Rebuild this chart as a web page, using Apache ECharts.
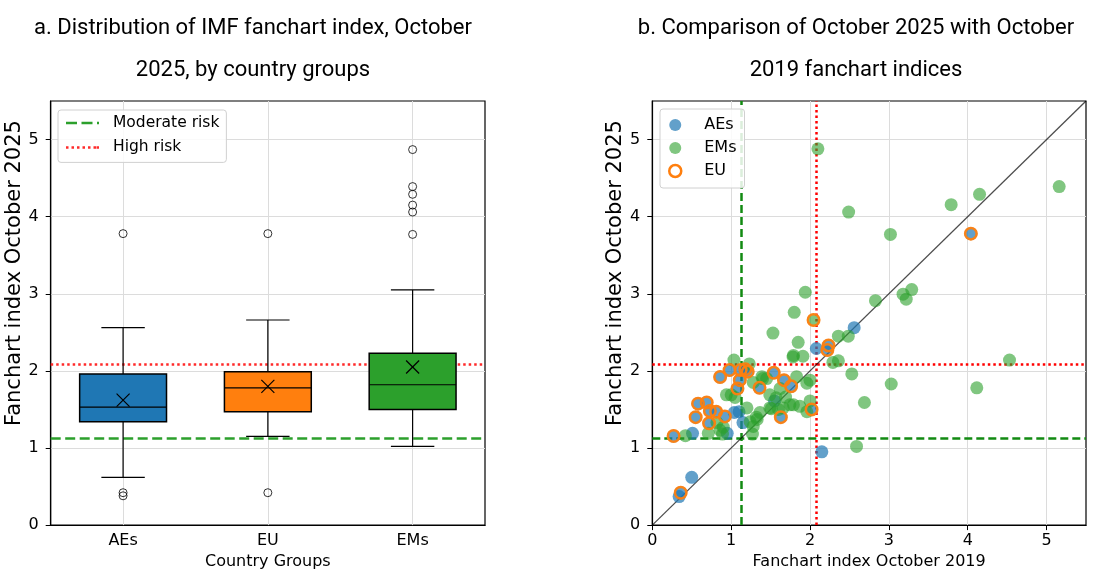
<!DOCTYPE html>
<html>
<head>
<meta charset="utf-8">
<script src="https://cdn.jsdelivr.net/npm/echarts@6/dist/echarts.min.js"></script>
<style>html,body{margin:0;padding:0;background:#fff;}#c{width:1111px;height:575px;}</style>
</head>
<body>
<div id="c"></div>
<script>
// ---------- data ----------
const CATS = ['AEs', 'EU', 'EMs'];
const BOX_LOW  = [0.62, 1.15, 1.02];
const BOX_Q1   = [1.34, 1.47, 1.50];
const BOX_MED  = [1.53, 1.78, 1.82];
const BOX_Q3   = [1.96, 1.99, 2.23];
const BOX_HIGH = [2.56, 2.66, 3.05];
const BOX_MEAN = [1.62, 1.80, 2.05];
const OUTLIERS_AES = [3.78, 0.42, 0.38];
const OUTLIERS_EU  = [3.78, 0.42];
const OUTLIERS_EMS = [4.87, 4.39, 4.29, 4.15, 4.06, 3.77];
const MODERATE_RISK = 1.13;
const HIGH_RISK = 2.08;
const AXIS_MAX = 5.5;
const TICKS = [0, 1, 2, 3, 4, 5];

// [index Oct 2019, index Oct 2025]
const AES_ONLY = [
  [0.34, 0.37], [0.50, 0.62], [0.51, 1.19], [0.95, 1.19], [1.15, 1.33],
  [1.04, 1.46], [1.10, 1.47], [1.55, 1.61], [2.15, 0.95], [2.08, 2.29],
  [2.56, 2.56]
];
const EU_AES = [
  [0.27, 1.155], [0.36, 0.42], [0.58, 1.575], [0.69, 1.59], [0.55, 1.40],
  [0.72, 1.32], [0.73, 1.48], [0.81, 1.47], [0.92, 1.41], [0.86, 1.92],
  [0.98, 2.01], [1.12, 2.01], [1.18, 2.02], [1.21, 1.99], [1.11, 1.88],
  [1.08, 1.77], [1.36, 1.78], [1.54, 1.975], [1.67, 1.88], [1.76, 1.80],
  [1.63, 1.40], [2.02, 1.50], [2.235, 2.33], [2.22, 2.27], [4.04, 3.78]
];
const EU_EMS = [[2.045, 2.66]];
const EMS_ONLY = [
  [2.10, 4.88], [5.16, 4.39], [4.15, 4.29], [3.79, 4.155], [2.49, 4.06],
  [3.02, 3.77], [1.94, 3.02], [3.29, 3.055], [3.18, 2.995], [3.22, 2.93],
  [2.83, 2.91], [1.80, 2.76], [1.53, 2.49], [2.36, 2.45], [2.485, 2.45],
  [1.85, 2.37], [1.785, 2.18], [1.79, 2.20], [1.91, 2.19], [2.29, 2.11],
  [2.36, 2.13], [4.53, 2.14], [2.53, 1.96], [3.03, 1.83], [4.115, 1.78],
  [2.69, 1.59], [2.59, 1.02], [1.035, 2.14], [1.23, 2.09], [1.39, 1.925],
  [1.45, 1.90], [1.28, 1.85], [1.83, 1.925], [1.96, 1.84], [2.00, 1.88],
  [0.94, 1.69], [1.00, 1.69], [1.05, 1.655], [1.49, 1.69], [1.745, 1.56],
  [1.79, 1.56], [1.87, 1.54], [2.00, 1.61], [1.96, 1.47], [1.49, 1.52],
  [1.60, 1.50], [1.20, 1.52], [1.365, 1.46], [1.32, 1.40], [1.24, 1.34],
  [1.28, 1.28], [0.82, 1.33], [0.90, 1.27], [0.86, 1.23], [0.71, 1.19],
  [0.42, 1.16], [1.27, 1.18], [1.66, 1.52], [1.51, 1.51], [1.62, 1.77],
  [1.69, 1.66], [1.57, 1.65], [0.89, 1.18], [1.40, 1.90], [1.33, 1.37]
];

// ---------- styles ----------
const FONT = 'DejaVu Sans';
const BOX_COLORS = ['#1f77b4', '#ff7f0e', '#2ca02c'];
const GRID_COLOR = '#dcdcdc';
const DASH_ICON = 'path://M0,0H11V2.5H0Z M15.5,0H26.5V2.5H15.5Z M31,0H33V2.5H31Z';
const DOT_ICON = 'path://M0,0H2.5V2.5H0Z M5.5,0H8V2.5H5.5Z M11,0H13.5V2.5H11Z M16.5,0H19V2.5H16.5Z M22,0H24.5V2.5H22Z M27.5,0H30V2.5H27.5Z M30.5,0H33V2.5H30.5Z';

const boxData = CATS.map((c, i) => [i, BOX_LOW[i], BOX_Q1[i], BOX_MED[i], BOX_Q3[i], BOX_HIGH[i], BOX_MEAN[i]]);
const outlierData = [];
OUTLIERS_AES.forEach(v => outlierData.push([0, v]));
OUTLIERS_EU.forEach(v => outlierData.push([1, v]));
OUTLIERS_EMS.forEach(v => outlierData.push([2, v]));

function valueAxis(grid, name) {
  return {
    type: 'value', gridIndex: grid, min: 0, max: AXIS_MAX,
    name: name, nameLocation: 'middle',
    nameTextStyle: { fontFamily: FONT, fontSize: 16, color: '#000' },
    axisLine: { show: true, lineStyle: { color: '#000', width: 1.2 } },
    axisTick: { show: true, length: 5, customValues: TICKS, lineStyle: { color: '#000' } },
    axisLabel: { customValues: TICKS, fontFamily: FONT, fontSize: 16, color: '#000', margin: 12 },
    splitLine: { show: true, lineStyle: { color: GRID_COLOR, width: 1 } }
  };
}

function yAxisFor(grid) {
  const a = valueAxis(grid, 'Fanchart index October 2025');
  a.nameGap = 17;
  a.nameTextStyle.fontSize = 21;
  a.nameTextStyle.padding = [0, 0, 0, 80];
  return a;
}
const yLeft = yAxisFor(0);
const yRight = yAxisFor(1);
const xRight = valueAxis(1, 'Fanchart index October 2019');
xRight.nameGap = 22; xRight.axisLabel.margin = 8;

const titleStyle = { fontFamily: 'Roboto', fontSize: 22, fontWeight: 'normal', color: '#000', lineHeight: 42 };

const option = {
  backgroundColor: '#fff',
  animation: false,
  title: [
    { text: 'a. Distribution of IMF fanchart index, October\n2025, by country groups',
      left: 253, top: 7, padding: 0, textAlign: 'center', textStyle: titleStyle },
    { text: 'b. Comparison of October 2025 with October\n2019 fanchart indices',
      left: 856, top: 7, padding: 0, textAlign: 'center', textStyle: titleStyle }
  ],
  legend: [
    { orient: 'vertical', left: 58, top: 110, padding: [4, 7, 6, 8],
      itemWidth: 33, itemHeight: 14, itemGap: 6.4,
      backgroundColor: 'rgba(255,255,255,0.85)', borderColor: '#d0d0d0', borderWidth: 1, borderRadius: 3,
      textStyle: { fontFamily: FONT, fontSize: 15.5, color: '#000', lineHeight: 18, padding: [0, 0, 0, 9] },
      data: [
        { name: 'Moderate risk', icon: DASH_ICON, itemStyle: { color: '#2ca02c', borderWidth: 0 } },
        { name: 'High risk', icon: DOT_ICON, itemStyle: { color: '#ff2a2a', borderWidth: 0 } }
      ] },
    { orient: 'vertical', left: 660, top: 109, padding: [7, 8, 8, 8],
      itemWidth: 32, itemHeight: 12, itemGap: 5,
      backgroundColor: 'rgba(255,255,255,0.85)', borderColor: '#d0d0d0', borderWidth: 1, borderRadius: 3,
      textStyle: { fontFamily: FONT, fontSize: 16, color: '#000', lineHeight: 18, padding: [0, 0, 0, 8] },
      data: [
        { name: 'AEs', icon: 'circle', itemStyle: { color: 'rgb(98,160,202)', opacity: 1 } },
        { name: 'EMs', icon: 'circle', itemStyle: { color: 'rgb(128,198,128)', opacity: 1 } },
        { name: 'EU', icon: 'circle', itemStyle: { color: 'rgba(255,255,255,0)', borderColor: '#ff7f0e', borderWidth: 2.5, opacity: 1 } }
      ] }
  ],
  grid: [
    { left: 50.7, right: 626, top: 101, bottom: 45, show: true, borderColor: '#000', borderWidth: 1.2, backgroundColor: '#fff' },
    { left: 652.3, right: 25, top: 101, bottom: 45, show: true, borderColor: '#000', borderWidth: 1.2, backgroundColor: '#fff' }
  ],
  xAxis: [
    { type: 'category', gridIndex: 0, data: CATS,
      name: 'Country Groups', nameLocation: 'middle', nameGap: 22,
      nameTextStyle: { fontFamily: FONT, fontSize: 16, color: '#000' },
      axisLine: { lineStyle: { color: '#000', width: 1.2 } },
      axisTick: { alignWithLabel: true, length: 5, lineStyle: { color: '#000' } },
      axisLabel: { fontFamily: FONT, fontSize: 16, color: '#000', margin: 8 },
      splitLine: { show: false } },
    xRight
  ],
  yAxis: [yLeft, yRight],
  series: [
    // left panel: vertical grid + outliers
    { type: 'scatter', xAxisIndex: 0, yAxisIndex: 0, data: outlierData, z: 5,
      symbol: 'circle', symbolSize: 8,
      itemStyle: { color: 'rgba(255,255,255,0)', borderColor: '#000', borderWidth: 1 },
      markLine: { silent: true, symbol: 'none', label: { show: false }, z: 1,
        lineStyle: { color: GRID_COLOR, width: 1, type: 'solid' },
        data: CATS.map(c => ({ xAxis: c })) } },
    { name: 'Moderate risk', type: 'line', xAxisIndex: 0, yAxisIndex: 0, data: [], symbol: 'none',
      lineStyle: { color: '#2ca02c', width: 2.5, type: [10, 4.5] }, itemStyle: { color: '#2ca02c' },
      markLine: { silent: true, symbol: 'none', label: { show: false }, z: 2,
        lineStyle: { color: '#2ca02c', width: 2.5, type: [10, 4.5] },
        data: [{ yAxis: MODERATE_RISK }] } },
    { name: 'High risk', type: 'line', xAxisIndex: 0, yAxisIndex: 0, data: [], symbol: 'none',
      lineStyle: { color: '#ff2a2a', width: 2.5, type: [2.5, 3] }, itemStyle: { color: '#ff2a2a' },
      markLine: { silent: true, symbol: 'none', label: { show: false }, z: 2,
        lineStyle: { color: '#ff2a2a', width: 2.5, type: [2.5, 3] },
        data: [{ yAxis: HIGH_RISK }] } },
    { type: 'custom', xAxisIndex: 0, yAxisIndex: 0, z: 4, data: boxData,
      encode: { x: 0, y: [1, 2, 3, 4, 5, 6] },
      renderItem: function (params, api) {
        const i = api.value(0);
        const low = api.coord([i, api.value(1)]);
        const q1 = api.coord([i, api.value(2)]);
        const med = api.coord([i, api.value(3)]);
        const q3 = api.coord([i, api.value(4)]);
        const high = api.coord([i, api.value(5)]);
        const mean = api.coord([i, api.value(6)]);
        const band = api.size([1, 0])[0];
        const bw = band * 0.6, cw = band * 0.3, cx = low[0];
        const ls = { stroke: '#000', lineWidth: 1.2 };
        const m = 6.5;
        return { type: 'group', children: [
          { type: 'line', shape: { x1: cx, y1: q3[1], x2: cx, y2: high[1] }, style: ls },
          { type: 'line', shape: { x1: cx, y1: q1[1], x2: cx, y2: low[1] }, style: ls },
          { type: 'line', shape: { x1: cx - cw / 2, y1: high[1], x2: cx + cw / 2, y2: high[1] }, style: ls },
          { type: 'line', shape: { x1: cx - cw / 2, y1: low[1], x2: cx + cw / 2, y2: low[1] }, style: ls },
          { type: 'rect', shape: { x: cx - bw / 2, y: q3[1], width: bw, height: q1[1] - q3[1] },
            style: { fill: BOX_COLORS[i], stroke: '#000', lineWidth: 1.5 } },
          { type: 'line', shape: { x1: cx - bw / 2, y1: med[1], x2: cx + bw / 2, y2: med[1] }, style: ls },
          { type: 'line', shape: { x1: cx - m, y1: mean[1] - m, x2: cx + m, y2: mean[1] + m }, style: ls },
          { type: 'line', shape: { x1: cx - m, y1: mean[1] + m, x2: cx + m, y2: mean[1] - m }, style: ls }
        ] };
      } },
    // right panel
    { name: 'moderate-b', type: 'line', xAxisIndex: 1, yAxisIndex: 1, data: [], symbol: 'none',
      markLine: { silent: true, symbol: 'none', label: { show: false }, z: 2,
        lineStyle: { color: '#128a12', width: 2.5, type: [8, 4] },
        data: [{ xAxis: MODERATE_RISK }, { yAxis: MODERATE_RISK }] } },
    { name: 'high-b', type: 'line', xAxisIndex: 1, yAxisIndex: 1, data: [], symbol: 'none',
      markLine: { silent: true, symbol: 'none', label: { show: false }, z: 2,
        lineStyle: { color: '#ff0000', width: 2.5, type: [2.5, 3] },
        data: [{ xAxis: HIGH_RISK }, { yAxis: HIGH_RISK }] } },
    { name: 'diag', type: 'line', xAxisIndex: 1, yAxisIndex: 1, z: 3, symbol: 'none', silent: true,
      data: [[0, 0], [AXIS_MAX, AXIS_MAX]],
      lineStyle: { color: 'rgba(0,0,0,0.7)', width: 1.3 } },
    { name: 'AEs', type: 'scatter', xAxisIndex: 1, yAxisIndex: 1, z: 4, symbolSize: 13,
      data: AES_ONLY.concat(EU_AES),
      itemStyle: { color: '#1f77b4', opacity: 0.7 } },
    { name: 'EMs', type: 'scatter', xAxisIndex: 1, yAxisIndex: 1, z: 4, symbolSize: 13,
      data: EMS_ONLY.concat(EU_EMS),
      itemStyle: { color: '#2ca02c', opacity: 0.6 } },
    { name: 'EU', type: 'scatter', xAxisIndex: 1, yAxisIndex: 1, z: 5, symbolSize: 11.5,
      data: EU_AES.concat(EU_EMS),
      itemStyle: { color: 'rgba(255,255,255,0)', borderColor: '#ff7f0e', borderWidth: 2.5, opacity: 0.95 } }
  ]
};
const chart = echarts.init(document.getElementById('c'), null, { renderer: 'canvas' });
chart.setOption(option);
</script>
</body>
</html>
